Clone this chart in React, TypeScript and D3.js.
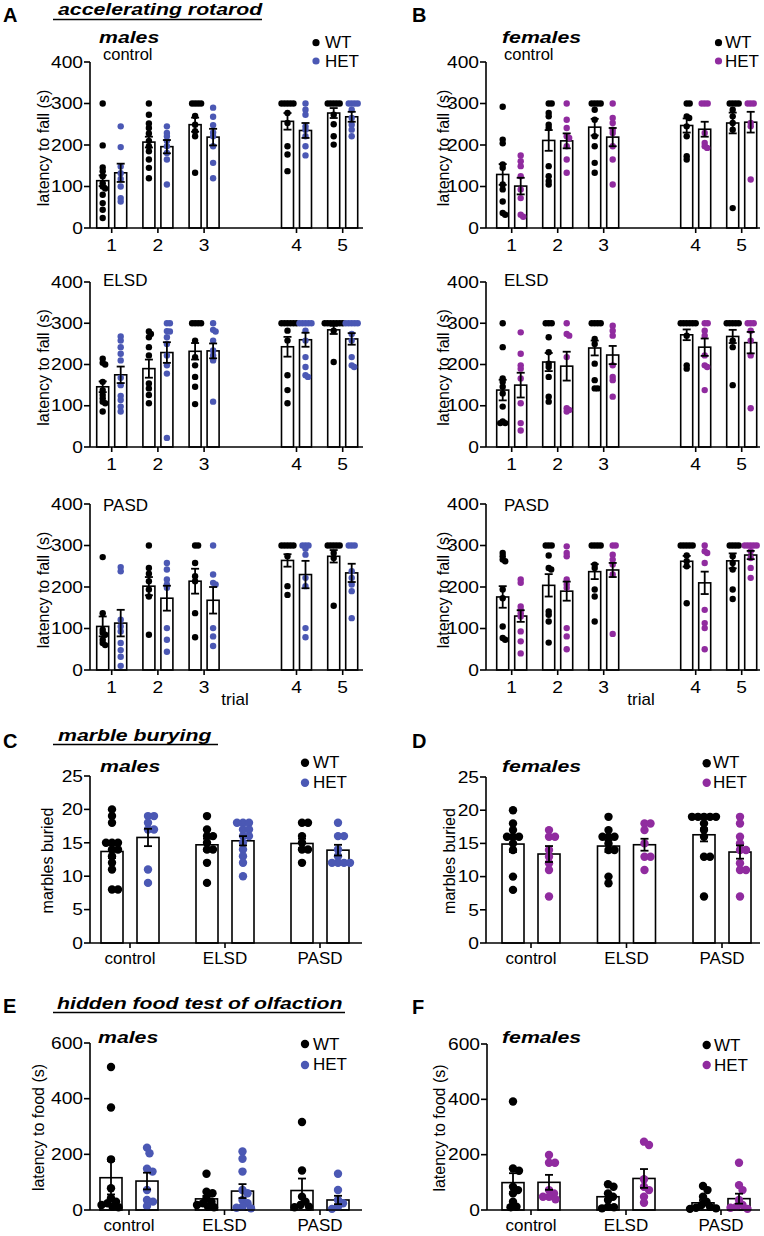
import React from "react";
import * as d3 from "d3";

// ---------- categories / ticks ----------
const trialLabels = ["1", "2", "3", "4", "5"];
const trialSlots = [1, 2, 3, 5, 6];
const rotarodTicks = [0, 100, 200, 300, 400];
const conditions = ["control", "ELSD", "PASD"];
const marbleTicks = [0, 5, 10, 15, 20, 25];
const foodTicks = [0, 200, 400, 600];

// ---------- accelerating rotarod, males ----------
const mCtrlWT = [
  [300, 199, 146, 137, 125, 108, 100, 95, 80, 60, 44, 24],
  [300, 273, 252, 241, 228, 210, 197, 185, 165, 145, 120],
  [300, 300, 300, 300, 270, 249, 233, 221, 133],
  [300, 300, 300, 300, 300, 277, 253, 197, 177, 137],
  [300, 300, 300, 300, 300, 273, 250, 221, 201],
];
const mCtrlWTMean = [114, 207, 249, 257, 277];
const mCtrlWTSem = [13, 13, 17, 20, 12];
const mCtrlHET = [
  [245, 195, 148, 132, 118, 100, 72, 64],
  [245, 229, 221, 210, 197, 181, 165, 105],
  [290, 268, 248, 230, 221, 197, 157, 120],
  [300, 285, 273, 245, 237, 221, 197, 175],
  [300, 300, 300, 300, 285, 265, 249, 237, 221],
];
const mCtrlHETMean = [133, 196, 219, 235, 268];
const mCtrlHETSem = [22, 16, 20, 18, 12];

const mElsdWT = [
  [214, 204, 200, 158, 138, 126, 118, 110, 106, 86],
  [280, 274, 266, 242, 222, 154, 142, 126, 106],
  [300, 300, 300, 300, 258, 218, 198, 170, 146, 104],
  [300, 300, 300, 300, 300, 300, 282, 258, 174, 138, 106],
  [300, 300, 300, 300, 300, 300, 300, 282, 206],
];
const mElsdWTMean = [146, 190, 232, 243, 284];
const mElsdWTSem = [13, 22, 20, 24, 10];
const mElsdHET = [
  [268, 258, 242, 226, 210, 168, 150, 124, 114, 98, 86],
  [300, 300, 281, 280, 266, 250, 222, 198, 178, 22],
  [300, 284, 280, 258, 234, 222, 210, 110],
  [300, 300, 300, 300, 300, 282, 258, 218, 194, 174, 170],
  [300, 300, 300, 300, 300, 274, 258, 218, 198, 194],
];
const mElsdHETMean = [175, 229, 233, 260, 262];
const mElsdHETSem = [20, 25, 18, 17, 14];

const mPasdWT = [
  [272, 137, 97, 90, 85, 73, 65, 60],
  [300, 246, 232, 214, 194, 177, 85],
  [300, 300, 258, 226, 214, 137, 79],
  [300, 300, 300, 300, 300, 274, 202, 181],
  [300, 300, 300, 300, 300, 282, 270, 155],
];
const mPasdWTMean = [105, 202, 214, 264, 274];
const mPasdWTSem = [24, 22, 30, 15, 15];
const mPasdHET = [
  [248, 238, 121, 105, 93, 65, 48, 32, 10],
  [258, 242, 218, 206, 198, 101, 73, 44],
  [300, 230, 210, 206, 101, 81, 58],
  [300, 300, 300, 292, 278, 222, 202, 101, 79],
  [300, 300, 300, 238, 222, 206, 190, 125],
];
const mPasdHETMean = [113, 173, 168, 230, 234];
const mPasdHETSem = [32, 30, 32, 33, 22];

// ---------- accelerating rotarod, females ----------
const fCtrlWT = [
  [292, 213, 204, 153, 145, 105, 93, 64, 36, 32],
  [300, 300, 277, 269, 249, 241, 149, 125, 113, 105],
  [300, 300, 300, 300, 285, 261, 221, 197, 157, 133],
  [300, 300, 269, 265, 245, 221, 173, 165],
  [300, 300, 300, 300, 285, 269, 253, 237, 48],
];
const fCtrlWTMean = [129, 211, 243, 247, 253];
const fCtrlWTSem = [25, 25, 20, 17, 25];
const fCtrlHET = [
  [175, 161, 149, 125, 93, 72, 32, 27],
  [300, 261, 241, 221, 217, 197, 165, 133],
  [300, 265, 253, 237, 229, 197, 165, 105],
  [300, 300, 300, 229, 205, 197, 193],
  [300, 300, 300, 253, 245, 117],
];
const fCtrlHETMean = [101, 210, 219, 238, 255];
const fCtrlHETSem = [20, 18, 22, 18, 25];

const fElsdWT = [
  [300, 242, 166, 158, 146, 130, 98, 62, 58, 58],
  [300, 300, 300, 266, 230, 202, 194, 170, 122, 110],
  [300, 300, 300, 300, 262, 250, 202, 162, 142, 142],
  [300, 300, 300, 300, 300, 300, 270, 198, 190],
  [300, 300, 300, 300, 300, 258, 242, 150],
];
const fElsdWTMean = [138, 206, 240, 272, 268];
const fElsdWTSem = [25, 22, 18, 13, 16];
const fElsdHET = [
  [278, 226, 198, 190, 166, 106, 58, 40],
  [300, 274, 270, 218, 94, 90, 86],
  [294, 282, 270, 198, 170, 162, 122],
  [300, 300, 282, 270, 222, 198, 194, 138],
  [300, 300, 300, 282, 258, 222, 94],
];
const fElsdHETMean = [150, 196, 223, 242, 253];
const fElsdHETSem = [30, 35, 22, 21, 26];

const fPasdWT = [
  [282, 274, 266, 262, 194, 173, 105, 77, 73],
  [300, 300, 300, 276, 246, 242, 141, 133, 117, 66],
  [300, 300, 300, 300, 254, 246, 194, 177, 117],
  [300, 300, 300, 300, 300, 276, 262, 250, 161],
  [300, 300, 300, 300, 274, 258, 242, 194, 171],
];
const fPasdWTMean = [176, 204, 237, 262, 263];
const fPasdWTSem = [26, 27, 18, 13, 18];
const fPasdHET = [
  [218, 210, 153, 145, 137, 129, 93, 69, 40],
  [298, 282, 274, 218, 206, 198, 101, 81, 50],
  [300, 300, 278, 266, 254, 230, 87],
  [300, 286, 282, 258, 145, 113, 101, 50],
  [300, 300, 300, 300, 300, 286, 270, 246, 222],
];
const fPasdHETMean = [130, 190, 241, 210, 277];
const fPasdHETSem = [14, 23, 17, 27, 10];

// ---------- marble burying ----------
const mbMaleWT = [
  [20, 19, 18, 15, 15, 15, 14, 14, 13, 12, 11, 8, 8],
  [19, 17, 16, 16, 15, 14, 14, 12, 9],
  [18, 18, 16, 15, 14, 14, 12],
];
const mbMaleWTMean = [13.7, 14.7, 14.9];
const mbMaleWTSem = [1.0, 0.9, 0.7];
const mbMaleHET = [
  [19, 19, 18, 17, 17, 11, 9],
  [18, 18, 18, 17, 17, 16, 16, 15, 14, 13, 12, 10],
  [18, 16, 16, 14, 13, 12, 12, 12, 12],
];
const mbMaleHETMean = [15.8, 15.3, 13.9];
const mbMaleHETSem = [1.3, 0.7, 0.8];

const mbFemWT = [
  [20, 18, 17, 16, 16, 16, 15, 14, 10, 8],
  [19, 17, 16, 16, 16, 15, 14, 14, 10, 9],
  [19, 19, 19, 19, 19, 18, 17, 16, 13, 13, 7],
];
const mbFemWTMean = [14.9, 14.6, 16.3];
const mbFemWTSem = [1.2, 0.9, 1.0];
const mbFemHET = [
  [17, 16, 16, 14, 13, 12, 11, 7],
  [18, 18, 17, 15, 13, 13, 11],
  [19, 18, 16, 15, 14, 14, 12, 11, 11, 7],
];
const mbFemHETMean = [13.4, 14.8, 13.7];
const mbFemHETSem = [1.2, 0.9, 1.0];

// ---------- hidden food test ----------
const hfMaleWT = [
  [514, 368, 182, 78, 42, 30, 24, 18, 12, 10],
  [130, 66, 60, 42, 30, 24, 18, 12, 10],
  [316, 142, 48, 30, 18, 12, 10],
];
const hfMaleWTMean = [116, 40, 70];
const hfMaleWTSem = [60, 11, 43];
const hfMaleHET = [
  [224, 204, 148, 138, 72, 36, 30, 14],
  [210, 184, 138, 72, 60, 36, 24, 12, 8, 6],
  [130, 72, 36, 24, 12, 4],
];
const hfMaleHETMean = [104, 68, 36];
const hfMaleHETSem = [30, 25, 15];

const hfFemWT = [
  [392, 150, 142, 84, 72, 60, 30, 12, 10],
  [93, 84, 60, 48, 36, 12, 10, 6],
  [87, 72, 48, 30, 18, 12, 8, 6, 4],
];
const hfFemWTMean = [99, 48, 26];
const hfFemWTSem = [34, 12, 10];
const hfFemHET = [
  [199, 171, 171, 72, 60, 48, 48, 39],
  [247, 235, 111, 84, 72, 48, 26],
  [171, 90, 72, 36, 18, 12, 8, 4],
];
const hfFemHETMean = [100, 114, 41];
const hfFemHETSem = [27, 34, 18];

// ---------- styling ----------
const BLUE = "#4b58b4";
const PURPLE = "#902b9f";
const FONT = "'Liberation Sans', Arial, Helvetica, sans-serif";

type Grp = { pts: number[][]; mean: number[]; sem: number[] };

function swarm(vals: number[], yPx: (v: number) => number, D: number) {
  const sorted = [...vals].sort((a, b) => b - a);
  const placed: { py: number; dx: number }[] = [];
  for (const v of sorted) {
    const py = yPx(v);
    let dx = 0;
    for (let k = 0; k < 600; k++) {
      const cand = k === 0 ? 0 : (k % 2 === 1 ? 1 : -1) * Math.ceil(k / 2) * 0.5;
      const hit = placed.some((p) => (p.dx - cand) ** 2 + (p.py - py) ** 2 < D * D);
      if (!hit) {
        dx = cand;
        break;
      }
    }
    placed.push({ py, dx });
  }
  return placed;
}

function Txt(props: any) {
  const { x, y, sx = 1, size = 17, anchor = "start", bold = false, italic = false, fill = "#000", children } = props;
  return (
    <text
      transform={`translate(${x},${y}) scale(${sx},1)`}
      fontSize={size}
      textAnchor={anchor}
      fontWeight={bold ? "bold" : "normal"}
      fontStyle={italic ? "italic" : "normal"}
      fill={fill}
      fontFamily={FONT}
    >
      {children}
    </text>
  );
}

function YLabel({ x, y, text }: any) {
  return (
    <text transform={`translate(${x},${y}) rotate(-90)`} textAnchor="middle" fontSize={16} fontFamily={FONT} fill="#000">
      {text}
    </text>
  );
}

function BarsWithDots({ cx, g, i, y, hw, r, D, color, base }: any) {
  const m = g.mean[i];
  const s = g.sem[i];
  const pts = swarm(g.pts[i], y, D);
  return (
    <g>
      <rect x={cx - hw} y={y(m)} width={hw * 2} height={base - y(m)} fill="#fff" stroke="#000" strokeWidth={1.6} />
      {pts.map((p, k) => (
        <circle key={k} cx={cx + p.dx} cy={p.py} r={r} fill={color} />
      ))}
      <g stroke="#000" strokeWidth={1.8}>
        <line x1={cx} x2={cx} y1={y(m - s)} y2={y(m + s)} />
        <line x1={cx - 4} x2={cx + 4} y1={y(m + s)} y2={y(m + s)} />
        <line x1={cx - 4} x2={cx + 4} y1={y(m - s)} y2={y(m - s)} />
      </g>
    </g>
  );
}

function Rotarod({ axisX, xFirst, step, xEnd, top, bottom, wt, het, color, ylabX }: any) {
  const y = d3.scaleLinear().domain([0, 400]).range([bottom, top]);
  const x = d3.scaleLinear().domain([1, 6]).range([xFirst, xFirst + 5 * step]);
  const off = 9;
  return (
    <g>
      {trialSlots.map((s, i) => (
        <g key={i}>
          <BarsWithDots cx={x(s) - off} g={wt} i={i} y={y} hw={6} r={3.2} D={2.9} color="#000" base={bottom} />
          <BarsWithDots cx={x(s) + off} g={het} i={i} y={y} hw={6} r={3.2} D={2.9} color={color} base={bottom} />
        </g>
      ))}
      <g stroke="#000" strokeWidth={1.6}>
        <line x1={axisX} x2={axisX} y1={top} y2={bottom} />
        <line x1={axisX} x2={xEnd} y1={bottom} y2={bottom} />
        {rotarodTicks.map((t) => (
          <line key={t} x1={axisX - 6} x2={axisX} y1={y(t)} y2={y(t)} />
        ))}
        {trialSlots.map((s) => (
          <line key={s} x1={x(s)} x2={x(s)} y1={bottom} y2={bottom + 5} />
        ))}
      </g>
      {rotarodTicks.map((t) => (
        <Txt key={t} x={axisX - 7} y={y(t) + 5.7} anchor="end" size={16} sx={1.2}>
          {t}
        </Txt>
      ))}
      {trialSlots.map((s, i) => (
        <Txt key={s} x={x(s)} y={bottom + 22.5} anchor="middle" size={16} sx={1.2}>
          {trialLabels[i]}
        </Txt>
      ))}
      <YLabel x={ylabX} y={(top + bottom) / 2 + 3} text="latency to fall (s)" />
    </g>
  );
}

function CatPanel({ axisX, xFirst, xLast, xEnd, top, bottom, maxV, ticks, wt, het, color, ylabX, ylabel }: any) {
  const y = d3.scaleLinear().domain([0, maxV]).range([bottom, top]);
  const x = d3.scalePoint<string>().domain(conditions).range([xFirst, xLast]);
  const off = 18;
  return (
    <g>
      {conditions.map((c, i) => (
        <g key={c}>
          <BarsWithDots cx={(x(c) as number) - off} g={wt} i={i} y={y} hw={11} r={4.2} D={6} color="#000" base={bottom} />
          <BarsWithDots cx={(x(c) as number) + off} g={het} i={i} y={y} hw={11} r={4.2} D={6} color={color} base={bottom} />
        </g>
      ))}
      <g stroke="#000" strokeWidth={1.6}>
        <line x1={axisX} x2={axisX} y1={top} y2={bottom} />
        <line x1={axisX} x2={xEnd} y1={bottom} y2={bottom} />
        {ticks.map((t: number) => (
          <line key={t} x1={axisX - 6} x2={axisX} y1={y(t)} y2={y(t)} />
        ))}
        {conditions.map((c) => (
          <line key={c} x1={x(c)} x2={x(c)} y1={bottom} y2={bottom + 5} />
        ))}
      </g>
      {ticks.map((t: number) => (
        <Txt key={t} x={axisX - 7} y={y(t) + 5.7} anchor="end" size={16} sx={1.2}>
          {t}
        </Txt>
      ))}
      {conditions.map((c) => (
        <Txt key={c} x={x(c)} y={bottom + 21} anchor="middle" size={17}>
          {c}
        </Txt>
      ))}
      <YLabel x={ylabX} y={(top + bottom) / 2 + 1} text={ylabel} />
    </g>
  );
}

function Legend({ dotX, y1, y2, textX, b1, b2, color, r }: any) {
  return (
    <g>
      <circle cx={dotX} cy={y1} r={r} fill="#000" />
      <circle cx={dotX} cy={y2} r={r} fill={color} />
      <Txt x={textX} y={b1} size={17}>WT</Txt>
      <Txt x={textX} y={b2} size={17}>HET</Txt>
    </g>
  );
}

const g = (pts: number[][], mean: number[], sem: number[]): Grp => ({ pts, mean, sem });

export default function App() {
  const rowsY = [
    [62, 228],
    [282, 447],
    [504, 670],
  ];
  const maleRows = [
    [g(mCtrlWT, mCtrlWTMean, mCtrlWTSem), g(mCtrlHET, mCtrlHETMean, mCtrlHETSem)],
    [g(mElsdWT, mElsdWTMean, mElsdWTSem), g(mElsdHET, mElsdHETMean, mElsdHETSem)],
    [g(mPasdWT, mPasdWTMean, mPasdWTSem), g(mPasdHET, mPasdHETMean, mPasdHETSem)],
  ];
  const femRows = [
    [g(fCtrlWT, fCtrlWTMean, fCtrlWTSem), g(fCtrlHET, fCtrlHETMean, fCtrlHETSem)],
    [g(fElsdWT, fElsdWTMean, fElsdWTSem), g(fElsdHET, fElsdHETMean, fElsdHETSem)],
    [g(fPasdWT, fPasdWTMean, fPasdWTSem), g(fPasdHET, fPasdHETMean, fPasdHETSem)],
  ];
  const rowNames = ["control", "ELSD", "PASD"];
  const rowNameY = [60, 286, 511];
  const rowNameSize = [16.5, 17, 17];

  return (
    <svg width={764} height={1236} style={{ position: "absolute", left: 0, top: 0, background: "#fff" }}>
      <rect width={764} height={1236} fill="#fff" />
      {/* panel letters */}
      <Txt x={3} y={22} size={20} bold>A</Txt>
      <Txt x={412} y={22} size={20} bold>B</Txt>
      <Txt x={3} y={748} size={20} bold>C</Txt>
      <Txt x={412} y={748} size={20} bold>D</Txt>
      <Txt x={3} y={1013} size={20} bold>E</Txt>
      <Txt x={412} y={1014} size={20} bold>F</Txt>

      {/* section titles */}
      <Txt x={58} y={15} size={17} sx={1.25} bold italic>accelerating rotarod</Txt>
      <line x1={53} x2={262} y1={19.5} y2={19.5} stroke="#000" strokeWidth={1.5} />
      <Txt x={58} y={741} size={17} sx={1.25} bold italic>marble burying</Txt>
      <line x1={53} x2={218} y1={744.5} y2={744.5} stroke="#000" strokeWidth={1.5} />
      <Txt x={57} y={1008.5} size={17} sx={1.25} bold italic>hidden food test of olfaction</Txt>
      <line x1={53} x2={345} y1={1012.5} y2={1012.5} stroke="#000" strokeWidth={1.5} />

      {/* rotarod */}
      <Txt x={99} y={43} size={17} sx={1.25} bold italic>males</Txt>
      <Txt x={502} y={43} size={17} sx={1.25} bold italic>females</Txt>
      {rowsY.map(([t, b], i) => (
        <g key={i}>
          <Rotarod axisX={90} xFirst={111.7} step={46.2} xEnd={363} top={t} bottom={b} wt={maleRows[i][0]} het={maleRows[i][1]} color={BLUE} ylabX={49} />
          <Rotarod axisX={486} xFirst={511.7} step={46} xEnd={760} top={t} bottom={b} wt={femRows[i][0]} het={femRows[i][1]} color={PURPLE} ylabX={448.5} />
          <Txt x={103} y={rowNameY[i]} size={rowNameSize[i]}>{rowNames[i]}</Txt>
          <Txt x={504} y={rowNameY[i]} size={rowNameSize[i]}>{rowNames[i]}</Txt>
        </g>
      ))}
      <Txt x={235} y={705} size={17} anchor="middle">trial</Txt>
      <Txt x={641} y={705} size={17} anchor="middle">trial</Txt>
      <Legend dotX={316} y1={42.7} y2={61} textX={325} b1={48} b2={67} color={BLUE} r={3.6} />
      <Legend dotX={718.5} y1={42.7} y2={61} textX={725} b1={48} b2={67} color={PURPLE} r={3.6} />

      {/* marble burying */}
      <Txt x={100} y={772} size={17} sx={1.25} bold italic>males</Txt>
      <Txt x={502} y={772} size={17} sx={1.25} bold italic>females</Txt>
      <CatPanel axisX={90} xFirst={130} xLast={320} xEnd={362} top={776} bottom={943} maxV={25} ticks={marbleTicks}
        wt={g(mbMaleWT, mbMaleWTMean, mbMaleWTSem)} het={g(mbMaleHET, mbMaleHETMean, mbMaleHETSem)} color={BLUE} ylabX={53} ylabel="marbles buried" />
      <CatPanel axisX={486} xFirst={531} xLast={722} xEnd={760} top={777} bottom={943} maxV={25} ticks={marbleTicks}
        wt={g(mbFemWT, mbFemWTMean, mbFemWTSem)} het={g(mbFemHET, mbFemHETMean, mbFemHETSem)} color={PURPLE} ylabX={455} ylabel="marbles buried" />
      <Legend dotX={305} y1={762.7} y2={782.7} textX={313} b1={768} b2={788} color={BLUE} r={4.2} />
      <Legend dotX={706.7} y1={763.3} y2={782.7} textX={713} b1={768} b2={788} color={PURPLE} r={4.2} />

      {/* hidden food */}
      <Txt x={98} y={1043} size={17} sx={1.25} bold italic>males</Txt>
      <Txt x={502} y={1043} size={17} sx={1.25} bold italic>females</Txt>
      <CatPanel axisX={90} xFirst={129} xLast={320} xEnd={362} top={1043} bottom={1210} maxV={600} ticks={foodTicks}
        wt={g(hfMaleWT, hfMaleWTMean, hfMaleWTSem)} het={g(hfMaleHET, hfMaleHETMean, hfMaleHETSem)} color={BLUE} ylabX={43.5} ylabel="latency to food (s)" />
      <CatPanel axisX={487} xFirst={531} xLast={721} xEnd={760} top={1044} bottom={1210} maxV={600} ticks={foodTicks}
        wt={g(hfFemWT, hfFemWTMean, hfFemWTSem)} het={g(hfFemHET, hfFemHETMean, hfFemHETSem)} color={PURPLE} ylabX={444.5} ylabel="latency to food (s)" />
      <Legend dotX={305} y1={1044} y2={1065} textX={313} b1={1050} b2={1070} color={BLUE} r={4.2} />
      <Legend dotX={706.7} y1={1045} y2={1065} textX={714} b1={1051} b2={1071} color={PURPLE} r={4.2} />
    </svg>
  );
}
